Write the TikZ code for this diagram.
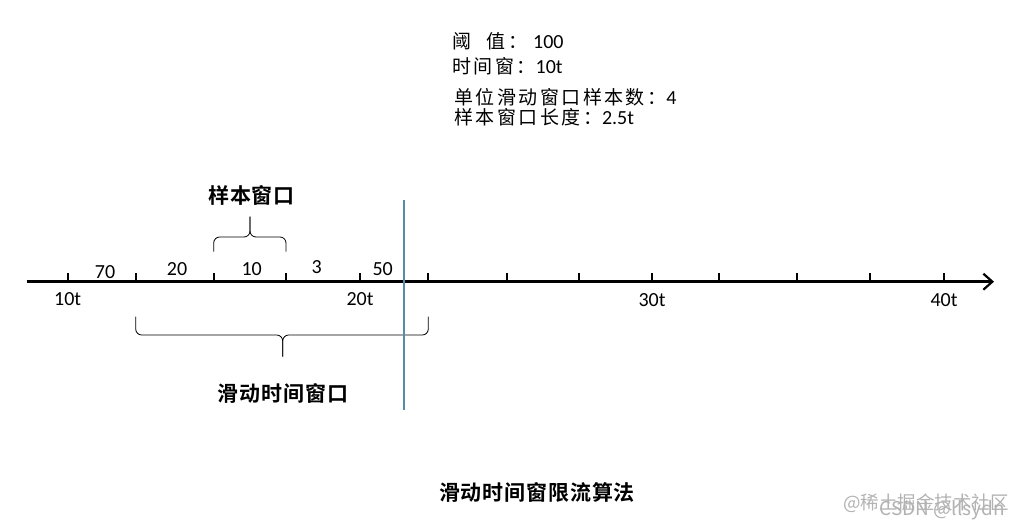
\documentclass[tikz,border=0pt]{standalone}
\usepackage{fontspec}
\setmainfont{Carlito}
\newfontfamily\cjk[LetterSpace=13]{Noto Sans CJK SC}
\newfontfamily\cjkb[LetterSpace=4]{Noto Sans CJK SC Bold}
\newfontfamily\cjkw{Noto Sans CJK SC}
\usetikzlibrary{arrows.meta}
\definecolor{vline}{RGB}{84,140,172}
\definecolor{wmark}{RGB}{178,178,178}
\begin{document}
\begin{tikzpicture}[x=1bp,y=-1bp,
  axislab/.style={font=\fontsize{20bp}{22bp}\selectfont, inner sep=0pt},
  infotext/.style={font=\fontsize{20bp}{22bp}\selectfont, anchor=west, inner sep=0pt},
  boldlab/.style={font=\fontsize{21bp}{24bp}\selectfont\cjkb, inner sep=0pt},
  tickmark/.style={line width=2bp},
  brace/.style={line width=0.8bp, rounded corners=6bp},
  wm/.style={text=wmark, inner sep=0pt}]
\useasboundingbox (0,0) rectangle (1019,531);
% info text
\node[infotext] (l1) at (452,41.7) {{\fontsize{19bp}{22bp}\selectfont\cjk 阈\kern-6bp　值：}\kern6bp 100};
\node[infotext] (l2) at (452,66) {{\fontsize{19bp}{22bp}\selectfont\cjk 时间窗：}10t};
\node[infotext] (l3) at (454,97.3) {{\fontsize{19bp}{22bp}\selectfont\cjk 单位滑动窗口样本数：}4};
\node[infotext] (l4) at (454,117.7) {{\fontsize{19bp}{22bp}\selectfont\cjk 样本窗口长度：}2.5t};
% axis
\coordinate (a0) at (26.7,281.7);
\coordinate (a1) at (994,281.7);
\draw[line width=2.6bp, -{Straight Barb[length=9bp,width=16bp,line width=2.2bp]}] (a0) -- (a1);
\foreach \i/\x in {1/67.7,2/135.7,3/213.7,4/286,5/360,6/428.3,7/507,8/579,9/652,10/719,11/797,12/870,13/944}{
  \coordinate (t\i) at (\x,281.7);
  \draw[tickmark] (t\i) -- ++(0,-9);
}
% axis labels
\node[axislab] (x10) at (67.7,299) {10t};
\node[axislab] (x20) at (360,299) {20t};
\node[axislab] (x30) at (652,300) {30t};
\node[axislab] (x40) at (944,300) {40t};
% counts
\node[axislab] (c1) at (105,272.5) {70};
\node[axislab] (c2) at (177,269.5) {20};
\node[axislab] (c3) at (251.7,269.5) {10};
\node[axislab] (c4) at (316.7,267) {3};
\node[axislab] (c5) at (382.7,269.5) {50};
% sample window brace
\coordinate (sb1) at (213.7,251.7);
\coordinate (sb2) at (286,251.7);
\coordinate (sbt) at (250,216.7);
\draw[brace] (sb1) -- (213.7,237) -- (250,237) -- (sbt);
\draw[brace] (sb2) -- (286,237) -- (250,237) -- (sbt);
\node[boldlab] (sw) at (251.5,195) {样本窗口};
% sliding window brace
\coordinate (wb1) at (135.7,316.7);
\coordinate (wb2) at (428.3,316.7);
\coordinate (wbt) at (282.7,356.7);
\draw[brace] (wb1) -- (135.7,335) -- (282.7,335) -- (wbt);
\draw[brace] (wb2) -- (428.3,335) -- (282.7,335) -- (wbt);
\node[boldlab] (stw) at (283,393) {滑动时间窗口};
% current time line
\coordinate (v1) at (404,200);
\coordinate (v2) at (404,410);
\draw[vline, line width=1.4bp] (v1) -- (v2);
% title
\node[boldlab] (title) at (537,492.7) {滑动时间窗限流算法};
% watermark
\node[wm, font=\fontsize{18.5bp}{20bp}\selectfont\cjkw, anchor=west] (wm1) at (843,503) {@稀土掘金技术社区};
\node[wm, font=\fontsize{19bp}{20bp}\selectfont\cjkw, anchor=east] (wm2) at (1005,510) {CSDN @llsydn};
\end{tikzpicture}
\end{document}
